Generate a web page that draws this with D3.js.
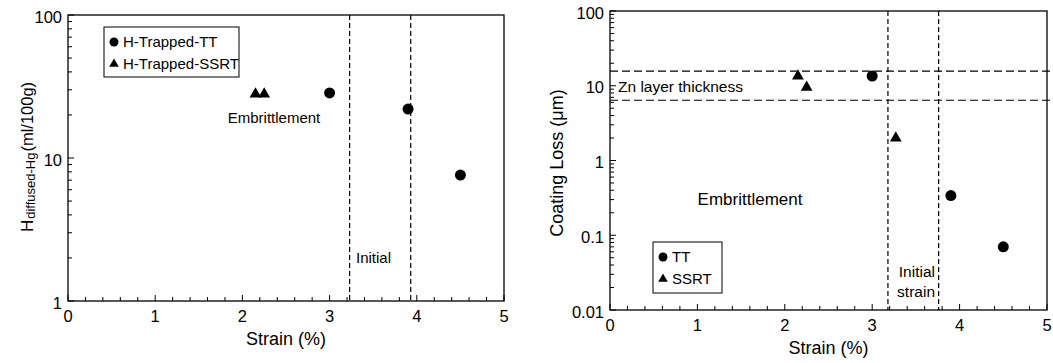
<!DOCTYPE html>
<html>
<head>
<meta charset="utf-8">
<script src="https://cdn.jsdelivr.net/npm/d3@7"></script>
<style>
  body { margin: 0; background: #fff; }
  svg { font-family: "Liberation Sans", Arial, sans-serif; }
</style>
</head>
<body>
<svg id="chart" width="1053" height="363"></svg>
<script>
'use strict';

// left panel: hydrogen content vs strain
const hTT = [[3.0, 28.5], [3.9, 22], [4.5, 7.6]];
const hSSRT = [[2.15, 28], [2.25, 28]];
const hVLines = [3.23, 3.93];

// right panel: coating loss vs strain
const cTT = [[3.0, 13.5], [3.9, 0.34], [4.5, 0.07]];
const cSSRT = [[2.15, 13.5], [2.25, 9.5], [3.27, 2.0]];
const cVLines = [3.18, 3.76];
const cHLines = [15.7, 6.4];

const xTicks = [0, 1, 2, 3, 4, 5];

const svg = d3.select('#chart');

function panel(opt) {
  const x = d3.scaleLinear().domain([0, 5]).range([opt.x0, opt.x1]);
  const y = d3.scaleLog().domain(opt.yDomain).range([opt.y1, opt.y0]);
  const g = svg.append('g');

  // minor ticks, inward
  const xMinor = d3.range(0, 5.001, 0.2);
  g.selectAll('.xm').data(xMinor).enter().append('line')
    .attr('x1', (d) => x(d)).attr('x2', (d) => x(d))
    .attr('y1', opt.y1).attr('y2', (d) => opt.y1 - (Math.abs(d - Math.round(d)) < 1e-6 ? 6 : 4))
    .attr('stroke', '#000').attr('stroke-width', 1);

  const yMinor = [];
  const lo = Math.log10(opt.yDomain[0]), hi = Math.log10(opt.yDomain[1]);
  for (let e = lo; e < hi; e++) {
    for (let k = 1; k <= 9; k++) yMinor.push(k * Math.pow(10, e));
  }
  yMinor.push(opt.yDomain[1]);
  g.selectAll('.ym').data(yMinor).enter().append('line')
    .attr('x1', opt.x0).attr('x2', (d) => opt.x0 + (Math.abs(Math.log10(d) - Math.round(Math.log10(d))) < 1e-6 ? 6 : 4))
    .attr('y1', (d) => y(d)).attr('y2', (d) => y(d))
    .attr('stroke', '#000').attr('stroke-width', 1);

  // frame
  g.append('rect')
    .attr('x', opt.x0).attr('y', opt.y0)
    .attr('width', opt.x1 - opt.x0).attr('height', opt.y1 - opt.y0)
    .attr('fill', 'none').attr('stroke', '#000').attr('stroke-width', 1.3);

  // tick labels
  g.selectAll('.xl').data(xTicks).enter().append('text')
    .attr('x', (d) => x(d)).attr('y', opt.y1 + 21)
    .attr('text-anchor', 'middle').attr('font-size', 16.5).text((d) => d);
  g.selectAll('.yl').data(opt.yTicks).enter().append('text')
    .attr('x', opt.x0 - 6).attr('y', (d) => y(d) + 7.5)
    .attr('text-anchor', 'end').attr('font-size', 16.5).text((d) => d);

  // axis title
  g.append('text')
    .attr('x', (opt.x0 + opt.x1) / 2).attr('y', opt.y1 + 44)
    .attr('text-anchor', 'middle').attr('font-size', 18).text('Strain (%)');

  // dashed reference lines
  g.selectAll('.vl').data(opt.vLines).enter().append('line')
    .attr('x1', (d) => x(d)).attr('x2', (d) => x(d))
    .attr('y1', opt.y0).attr('y2', opt.y1)
    .attr('stroke', '#000').attr('stroke-width', 1.2).attr('stroke-dasharray', '5,3');
  g.selectAll('.hl').data(opt.hLines || []).enter().append('line')
    .attr('x1', opt.x0).attr('x2', opt.x1 + 3)
    .attr('y1', (d) => y(d)).attr('y2', (d) => y(d))
    .attr('stroke', '#000').attr('stroke-width', 1.2).attr('stroke-dasharray', '8,4');

  // points
  g.selectAll('.c').data(opt.tt).enter().append('circle')
    .attr('cx', (d) => x(d[0])).attr('cy', (d) => y(d[1])).attr('r', 5.5);
  const tri = d3.symbol().type(d3.symbolTriangle).size(60);
  g.selectAll('.t').data(opt.ssrt).enter().append('path')
    .attr('d', tri).attr('transform', (d) => `translate(${x(d[0])},${y(d[1])})`);

  return { g, x, y };
}

function legend(g, bx, by, bw, bh, labels) {
  g.append('rect').attr('x', bx).attr('y', by).attr('width', bw).attr('height', bh)
    .attr('fill', '#fff').attr('stroke', '#000').attr('stroke-width', 1);
  g.append('circle').attr('cx', bx + 10).attr('cy', by + 15).attr('r', 4.5);
  g.append('path').attr('d', d3.symbol().type(d3.symbolTriangle).size(40))
    .attr('transform', `translate(${bx + 10},${by + 37})`);
  g.append('text').attr('x', bx + 19).attr('y', by + 20).attr('font-size', 15).text(labels[0]);
  g.append('text').attr('x', bx + 19).attr('y', by + 42).attr('font-size', 15).text(labels[1]);
}

// left panel
const L = panel({
  x0: 68, x1: 504, y0: 15, y1: 301,
  yDomain: [1, 100], yTicks: [1, 10, 100],
  vLines: hVLines, tt: hTT, ssrt: hSSRT
});
legend(L.g, 104, 27, 135, 50, ['H-Trapped-TT', 'H-Trapped-SSRT']);
L.g.append('text').attr('x', 274).attr('y', 123).attr('text-anchor', 'middle')
  .attr('font-size', 15).text('Embrittlement');
L.g.append('text').attr('x', 356).attr('y', 263).attr('font-size', 15).text('Initial');
const lt = L.g.append('text')
  .attr('transform', 'translate(33,157) rotate(-90)')
  .attr('text-anchor', 'middle').attr('font-size', 17);
lt.append('tspan').text('H');
lt.append('tspan').attr('font-size', 13).attr('dy', 2).attr('dx', 1).text('diffused-Hg');
lt.append('tspan').attr('font-size', 16.5).attr('dy', -2).attr('dx', 1).text('(ml/100g)');

// right panel
const R = panel({
  x0: 610, x1: 1047, y0: 11, y1: 310,
  yDomain: [0.01, 100], yTicks: [0.01, 0.1, 1, 10, 100],
  vLines: cVLines, hLines: cHLines, tt: cTT, ssrt: cSSRT
});
legend(R.g, 653, 242, 69, 51, ['TT', 'SSRT']);
R.g.append('text').attr('x', 618).attr('y', 92).attr('font-size', 15.5).text('Zn layer thickness');
R.g.append('text').attr('x', 750).attr('y', 205).attr('text-anchor', 'middle')
  .attr('font-size', 17).text('Embrittlement');
R.g.append('text').attr('x', 935).attr('y', 277).attr('text-anchor', 'end')
  .attr('font-size', 15.5).text('Initial');
R.g.append('text').attr('x', 935).attr('y', 297).attr('text-anchor', 'end')
  .attr('font-size', 15.5).text('strain');
R.g.append('text')
  .attr('transform', 'translate(563,163) rotate(-90)')
  .attr('text-anchor', 'middle').attr('font-size', 18).text('Coating Loss (\u03bcm)');
</script>
</body>
</html>
